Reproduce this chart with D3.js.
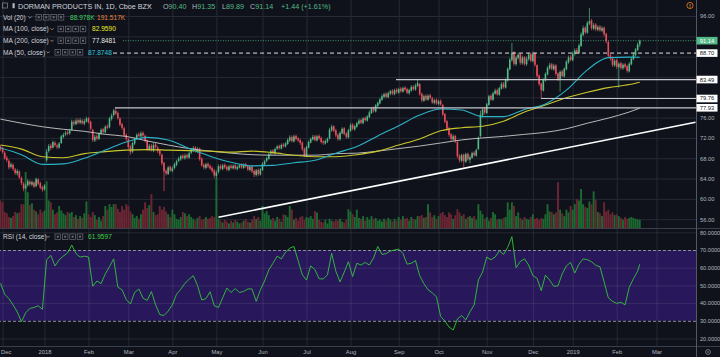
<!DOCTYPE html>
<html><head><meta charset="utf-8">
<script src="https://cdn.jsdelivr.net/npm/d3@7/dist/d3.min.js"></script>
<style>html,body{margin:0;padding:0;background:#0f121a;overflow:hidden}svg{display:block}</style>
</head><body><svg id="c" width="720" height="357"></svg>
<script>
// ---------- DATA (daily bars, index 0 = ~30 Nov 2017) ----------
const opens=[70.2,69.9,69.1,68.1,67.5,66.3,66.7,65.8,65.0,65.4,
64.1,63.0,62.2,62.7,63.4,62.8,63.2,62.5,63.8,63.1,
62.3,61.9,67.6,69.4,70.5,70.1,71.0,70.5,70.1,71.0,
72.2,72.7,73.1,72.9,73.6,75.1,74.7,75.5,75.0,75.4,
74.8,75.2,75.9,75.2,73.6,71.5,72.3,71.8,72.9,73.7,
73.1,74.3,74.1,75.7,76.5,77.3,76.9,75.8,74.7,73.9,
72.6,71.7,70.3,69.3,70.9,71.9,72.7,72.3,73.0,72.4,
71.5,69.7,70.5,69.5,70.7,70.1,69.5,68.7,67.1,65.5,
64.9,66.3,65.5,66.1,66.7,67.5,67.8,68.5,68.0,68.6,
68.1,69.1,69.5,70.1,69.3,69.9,67.9,66.7,66.1,66.9,
66.5,66.1,65.6,64.5,65.3,66.5,65.9,66.7,66.3,65.7,
66.5,66.0,66.6,65.9,66.2,66.7,66.1,66.8,66.5,65.7,
66.4,65.5,64.7,65.7,64.8,65.7,66.8,67.5,67.9,68.9,
69.5,68.9,69.9,70.4,69.9,70.7,70.3,70.8,71.5,72.2,
71.3,72.4,71.9,71.6,71.1,69.9,68.5,70.1,71.1,71.7,
72.3,71.5,72.4,72.0,71.3,70.9,71.3,71.9,73.5,74.3,
73.5,72.6,71.7,72.9,73.9,72.9,72.1,73.4,74.6,73.7,
74.2,74.8,75.5,74.9,75.9,75.4,76.1,76.9,77.9,77.2,
78.3,78.8,79.5,80.1,80.7,80.0,80.7,81.3,80.6,81.5,
80.9,81.7,81.1,81.9,81.6,80.8,81.3,82.1,81.5,82.2,
82.6,80.7,79.3,80.3,79.5,80.4,79.8,78.9,79.5,78.7,
79.3,78.5,76.7,75.3,73.9,72.7,71.7,72.4,71.2,68.5,
67.5,68.7,67.3,68.9,67.7,68.1,69.1,68.5,69.8,72.4,
76.4,77.8,76.9,78.5,80.3,79.5,80.7,81.4,80.5,81.7,
82.7,81.9,83.3,85.5,87.3,88.9,86.5,87.7,88.5,86.7,
87.9,86.5,87.5,88.5,87.1,88.7,86.3,84.3,82.7,81.3,
83.3,84.5,85.7,86.5,85.5,86.3,84.7,83.5,85.1,84.1,
85.5,86.9,87.9,87.3,88.5,89.3,88.7,90.1,92.3,93.7,
92.7,94.5,95.1,93.5,94.3,93.3,93.9,93.1,93.7,92.5,
90.9,88.3,87.7,86.3,87.3,85.9,86.7,85.7,86.5,86.1,
85.1,86.5,87.5,88.3,89.3,90.40];
const highs=[70.6,70.3,69.4,68.5,67.8,67.2,67.0,66.1,65.9,65.6,
64.4,63.3,63.0,63.9,63.7,63.6,63.5,64.2,64.1,63.4,
62.6,62.9,69.8,70.8,70.9,71.5,71.4,70.9,71.2,72.6,
73.0,73.4,73.5,73.8,75.6,75.5,75.8,75.9,75.9,75.7,
75.7,76.2,76.1,75.4,73.8,72.6,72.7,73.1,73.9,74.0,
74.5,74.7,76.1,76.8,77.7,77.93,77.2,76.1,75.0,74.2,
72.9,72.0,70.6,71.3,72.1,72.9,73.1,73.3,73.3,72.7,
71.7,70.8,70.8,71.0,71.0,70.4,69.8,68.9,67.3,65.9,
66.5,66.6,66.4,67.1,67.7,68.3,68.7,68.8,68.9,68.9,
69.3,70.0,70.4,70.4,70.2,70.1,68.2,67.0,67.1,67.2,
66.8,66.4,65.9,65.6,66.8,66.8,66.9,67.0,66.6,66.7,
66.8,66.8,66.9,66.6,66.9,67.0,67.0,67.1,66.7,66.6,
66.6,65.8,65.9,66.0,66.1,67.2,67.7,68.3,69.1,69.7,
69.8,70.1,70.6,70.7,70.9,71.0,71.2,71.9,72.5,72.5,
72.6,72.7,72.2,71.9,71.3,70.1,70.5,71.5,72.1,72.6,
72.6,72.6,72.7,72.3,71.6,71.7,72.1,74.0,74.6,74.5,
73.8,72.9,73.3,74.1,74.1,73.1,73.8,74.9,74.9,74.6,
75.2,75.8,75.8,76.1,76.2,76.5,77.4,78.1,78.2,78.7,
79.2,79.9,80.6,80.9,81.0,81.1,81.5,81.6,81.7,81.8,
81.9,82.0,82.1,82.2,81.9,81.7,82.4,82.4,82.7,83.49,
82.8,80.9,80.5,80.6,80.6,80.7,80.1,79.7,79.8,79.5,
79.6,78.7,76.9,75.5,74.2,73.0,72.7,72.6,71.4,68.8,
68.9,68.9,69.1,69.1,68.6,69.3,69.4,69.9,72.3,77.4,
78.0,78.1,78.9,80.5,80.6,81.1,81.7,81.7,82.1,83.0,
83.0,83.7,85.9,87.8,90.7,89.1,88.2,88.8,88.7,88.2,
88.1,88.0,88.8,88.8,89.0,88.9,86.5,84.5,82.9,83.7,
84.9,86.1,86.8,86.8,86.6,86.5,84.9,85.3,85.4,85.9,
87.3,88.2,88.3,89.0,89.6,89.7,90.6,92.8,94.1,94.0,
95.0,97.6,95.4,94.6,94.6,94.2,94.2,94.0,93.9,92.7,
91.1,88.6,88.0,87.5,87.6,86.9,87.0,86.7,86.8,86.4,
86.9,87.9,88.8,89.7,90.8,91.35];
const lows=[69.4,68.9,67.7,67.2,65.8,66.0,65.5,64.7,64.6,63.9,
62.7,61.5,61.9,62.4,62.5,62.5,62.1,62.3,62.7,61.9,
61.4,61.6,67.2,69.1,69.6,69.9,70.2,69.8,69.9,70.8,
71.9,72.4,72.5,72.6,73.4,74.4,74.5,74.7,74.7,74.6,
74.5,75.0,74.8,73.5,71.2,71.2,71.5,71.6,72.6,72.9,
72.9,73.7,73.9,75.4,76.2,76.5,75.6,74.3,73.6,72.2,
71.4,69.8,68.7,69.0,70.6,71.6,72.1,72.0,72.2,71.1,
69.4,69.4,69.3,69.2,69.9,69.0,68.4,66.6,61.5,64.6,
64.7,65.3,65.2,65.8,66.4,67.2,67.5,67.8,67.7,67.9,
67.9,68.8,69.2,69.1,69.0,67.5,66.3,65.8,65.8,66.1,
65.7,65.1,64.1,64.0,65.0,65.7,65.6,65.9,65.5,65.4,
65.8,65.8,65.7,65.6,66.0,65.9,65.9,66.1,65.5,65.4,
65.1,64.3,64.4,64.5,64.6,65.5,66.5,67.2,67.7,68.6,
68.7,68.7,69.6,69.7,69.7,70.1,70.1,70.6,71.2,71.1,
71.1,71.5,71.2,70.6,69.4,68.2,68.3,69.9,70.9,71.5,
71.3,71.3,71.6,70.9,70.6,70.7,71.0,71.7,73.2,73.1,
72.1,71.4,71.5,72.7,72.5,71.8,71.9,73.2,73.5,73.4,
74.0,74.6,74.7,74.7,75.2,75.2,75.9,76.7,77.0,77.0,
78.0,78.6,79.3,79.8,79.8,79.8,80.4,80.4,80.4,80.7,
80.7,80.9,80.9,81.2,80.6,80.5,81.1,81.3,81.3,82.0,
80.3,79.0,79.1,79.3,79.3,79.6,78.7,78.6,78.5,78.4,
78.3,76.3,74.9,73.4,72.2,71.4,71.4,71.0,68.0,67.2,
67.2,66.3,67.1,67.5,67.0,67.9,68.3,68.3,69.6,72.1,
76.0,76.6,76.7,78.3,79.3,79.3,80.5,80.3,80.3,81.5,
81.7,81.7,83.1,85.3,87.0,86.2,86.2,87.4,86.4,86.4,
86.2,86.2,87.2,86.9,86.9,86.0,83.8,82.2,79.76,81.1,
83.1,84.3,85.4,85.3,85.2,84.2,83.2,81.1,83.9,83.9,
85.3,86.6,87.1,87.1,88.2,88.5,88.5,89.9,92.0,92.4,
92.5,94.2,93.2,93.2,93.0,93.0,92.9,92.8,92.0,90.6,
87.8,87.2,86.0,86.0,85.6,81.9,85.4,85.4,85.6,84.8,
84.9,86.3,87.3,88.1,89.1,89.89];
const closes=[69.8,69.2,68.0,67.6,66.2,66.8,65.9,65.1,65.5,64.2,
63.1,62.0,62.6,63.5,62.9,63.3,62.4,63.9,63.0,62.2,
61.8,62.6,69.3,70.4,70.0,71.2,70.6,70.2,70.9,72.3,
72.6,73.0,72.8,73.4,75.2,74.8,75.4,75.0,75.5,74.9,
75.3,75.8,75.1,73.8,71.6,72.2,71.9,72.8,73.6,73.2,
74.2,74.0,75.8,76.4,77.4,76.8,75.9,74.6,74.0,72.5,
71.8,70.2,69.2,71.0,71.8,72.6,72.4,72.9,72.5,71.4,
69.8,70.4,69.6,70.6,70.2,69.4,68.8,67.0,65.4,65.0,
66.2,65.6,66.0,66.8,67.4,67.9,68.4,68.1,68.5,68.2,
69.0,69.6,70.0,69.4,69.8,67.8,66.6,66.2,66.8,66.4,
66.0,65.5,64.6,65.2,66.4,66.0,66.6,66.2,65.8,66.4,
66.1,66.5,66.0,66.3,66.6,66.2,66.7,66.4,65.8,66.3,
65.4,64.8,65.6,64.9,65.8,66.9,67.4,68.0,68.8,69.4,
69.0,69.8,70.3,70.0,70.6,70.4,70.9,71.6,72.1,71.4,
72.3,71.8,71.5,71.0,69.8,68.6,70.2,71.2,71.8,72.2,
71.6,72.3,71.9,71.2,71.0,71.4,71.8,73.6,74.2,73.4,
72.5,71.8,73.0,73.8,72.8,72.2,73.5,74.5,73.8,74.3,
74.9,75.4,75.0,75.8,75.5,76.2,77.0,77.8,77.3,78.4,
78.9,79.6,80.2,80.6,80.1,80.8,81.2,80.7,81.4,81.0,
81.6,81.2,81.8,81.5,80.9,81.4,82.0,81.6,82.3,82.8,
80.6,79.4,80.2,79.6,80.3,79.9,79.0,79.4,78.8,79.2,
78.6,76.6,75.2,73.8,72.6,71.8,72.3,71.4,68.4,67.6,
68.6,67.4,68.8,67.8,68.2,69.0,68.6,69.6,72.0,76.6,
77.6,77.0,78.6,80.2,79.6,80.8,81.3,80.6,81.8,82.6,
82.0,83.4,85.6,87.4,88.8,86.6,87.8,88.4,86.8,87.8,
86.6,87.6,88.4,87.2,88.6,86.4,84.2,82.6,81.4,83.4,
84.6,85.8,86.4,85.6,86.2,84.6,83.6,85.0,84.2,85.6,
87.0,87.8,87.4,88.6,89.2,88.8,90.2,92.4,93.6,92.8,
94.6,95.0,93.6,94.2,93.4,93.8,93.2,93.6,92.4,91.0,
88.2,87.6,86.4,87.2,86.0,86.6,85.8,86.4,86.0,85.2,
86.6,87.6,88.4,89.4,90.4,91.14];
const volumes=[300,280,175,160,120,110,130,175,160,170,
260,260,610,390,250,270,200,180,150,200,
170,190,510,300,280,200,150,170,240,190,
160,140,175,160,175,120,140,100,130,110,
160,290,150,120,175,140,90,120,80,130,
240,200,260,230,260,260,210,175,240,200,
260,240,180,150,110,130,100,150,200,280,
220,250,370,175,140,150,240,200,230,180,
150,120,200,150,100,90,120,175,160,130,
150,120,100,80,110,130,90,100,120,100,
110,130,120,545,100,80,60,90,70,50,
80,60,90,70,50,60,80,100,70,60,
90,130,100,120,80,240,160,185,140,90,
110,80,120,100,70,150,140,120,240,200,
90,110,80,120,130,90,120,110,130,100,
185,170,90,70,60,90,50,100,80,70,
90,80,100,70,60,90,205,180,150,120,
200,110,100,130,80,120,90,130,100,110,
80,90,70,100,80,110,90,70,100,80,
120,90,130,100,110,80,120,100,90,130,
130,140,110,120,260,170,120,140,100,130,
160,175,140,120,170,150,100,140,205,170,
130,150,100,120,130,110,130,90,260,190,
150,100,120,80,110,175,150,90,100,90,
110,120,280,200,280,240,130,170,110,90,
120,100,90,120,150,100,110,90,110,100,
150,260,180,175,150,170,500,200,160,130,
200,170,240,200,260,315,300,425,260,230,
220,290,260,400,310,175,160,130,280,180,
200,150,170,140,150,130,110,90,120,100,
110,120,110,100,95,89];
// moving averages, sampled every 10 bars
const maBars=[0,10,20,30,40,50,60,70,80,90,100,110,120,130,140,150,160,170,180,190,200,210,220,230,240,250,260,270,280,290,300,305];
const ma50=[70.0,68.7,66.8,66.9,68.0,69.6,71.2,72.1,71.6,69.9,68.4,67.2,66.5,66.6,67.1,67.6,69.0,70.3,72.4,74.4,76.5,77.7,77.5,76.2,76.2,77.6,78.7,81.4,85.4,87.8,87.9,87.87];
const ma100=[70.6,69.8,68.3,68.1,68.9,69.3,69.6,69.7,69.6,69.5,69.4,69.2,69.4,69.1,68.6,68.3,68.3,68.7,69.4,70.6,71.8,73.4,74.0,74.3,75.3,77.1,78.5,79.9,81.0,81.9,82.5,82.96];
const ma200=[75.7,74.9,74.2,73.7,73.3,72.7,72.3,71.4,70.6,69.9,69.4,69.0,68.7,68.6,68.6,68.6,68.9,69.0,69.4,69.9,70.4,71.0,71.6,72.0,72.3,72.7,73.1,73.8,74.9,75.9,77.1,77.85];
// RSI(14), sampled every 2 bars, last bar appended
const rsiVals=[51.2,45.0,42.5,39.0,35.0,29.5,34.5,37.0,37.5,38.5,
36.5,64.4,67.0,61.0,64.5,66.6,68.3,72.8,68.0,66.0,
66.5,66.0,49.5,52.5,51.0,56.5,60.6,65.0,49.0,47.5,
42.0,39.5,46.0,48.0,42.8,41.5,46.5,39.0,33.5,33.0,
35.5,39.0,45.0,47.8,51.2,53.5,55.5,50.0,41.8,42.5,
46.4,38.5,37.5,43.0,48.5,46.0,48.2,46.0,46.6,48.0,
48.0,41.0,47.5,52.5,58.7,62.5,66.5,65.0,68.8,71.0,
72.0,64.0,56.0,53.0,61.0,59.0,53.8,53.6,56.0,68.1,
58.0,52.0,57.5,63.4,55.0,62.5,61.5,63.0,61.5,65.5,
72.0,67.5,68.0,69.4,70.0,70.5,68.1,62.0,62.5,64.0,
55.5,51.0,47.5,45.8,43.6,32.5,29.8,26.5,24.8,31.0,
33.0,30.5,35.1,39.0,53.0,57.5,66.0,64.5,66.0,69.5,
67.5,71.5,77.5,60.0,63.5,65.0,61.5,55.5,54.0,47.0,
55.8,53.0,49.5,49.8,56.5,61.0,63.0,57.0,62.0,65.0,
64.5,63.4,61.3,60.6,52.0,43.0,41.0,39.8,40.5,39.0,
49.0,53.8,58.0,61.96];
const rsiBars=d3.range(0,305,2).concat([305]);
const monthBars=[1,21,42,61,82,103,125,146,167,190,209,232,254,273,294,313];
const monthLabels=["Dec","2018","Feb","Mar","Apr","May","Jun","Jul","Aug","Sep","Oct","Nov","Dec","2019","Feb","Mar"];
const priceTicks=[96,92,88,84,80,76,72,68,64,60,56];
const rsiTicks=[80,70,60,50,40,30,20];
const levelPrices=[77.93,79.76,83.49];
const levelStarts=[54.6,257.9,188.7];
const markPrice=88.70, markStart=53.7;
const lastPrice=91.14, lastStart=58.4;
const trendBars=[104,331.6], trendPrices=[56.4,75.1];

// ---------- DRAW ----------
const BG='#0f121a', GRID='#262a35', UP='#53b987', DN='#eb4d5c', TXT='#b2b5be';
const FONT='"Liberation Sans",Arial,sans-serif';
const PR=696, MAIN_B=228, RSI_T=229, RSI_B=346;
const svg=d3.select('#c').style('font-family',FONT);
svg.append('rect').attr('width',720).attr('height',357).attr('fill',BG);

const x=d3.scaleLinear().domain([0,331.6]).range([0.5,695.5]);
const y=d3.scaleLinear().domain([96,56]).range([16,219.2]);
const yv=d3.scaleLinear().domain([0,1200]).range([MAIN_B,MAIN_B-110]);
const yr=d3.scaleLinear().domain([70,30]).range([250,320.8]);

const defs=svg.append('defs');
defs.append('clipPath').attr('id','cm').append('rect').attr('x',0).attr('y',0).attr('width',PR).attr('height',MAIN_B);
defs.append('clipPath').attr('id','cr').append('rect').attr('x',0).attr('y',RSI_T).attr('width',PR).attr('height',RSI_B-RSI_T);

// RSI band
svg.append('rect').attr('x',0).attr('y',yr(70)).attr('width',PR).attr('height',yr(30)-yr(70)).attr('fill','#28175a');

// vertical grid
function vgrid(y0,h,col){
  const g=svg.append('g').attr('transform',`translate(0,${y0})`)
    .call(d3.axisBottom(x).tickValues(monthBars).tickSize(h).tickFormat(''));
  g.select('.domain').remove();
  g.selectAll('line').attr('stroke',col).attr('stroke-width',1);
}
vgrid(0,MAIN_B,GRID);
vgrid(RSI_T,RSI_B-RSI_T,'rgba(255,255,255,0.09)');

// price axis + horizontal grid (labels hidden under the value tags, as in the source)
const tagged=[92,88,84,80];
const ga=svg.append('g').attr('transform',`translate(${PR},0)`)
  .call(d3.axisRight(y).tickValues(priceTicks).tickFormat(d=>tagged.includes(d)?'':d3.format('.2f')(d)).tickSizeInner(-PR).tickSizeOuter(0).tickPadding(4));
ga.select('.domain').remove();
ga.selectAll('line').attr('stroke',GRID);
ga.selectAll('text').attr('fill',TXT).style('font-size','5.8px').style('font-family',FONT);

// RSI axis
const gr=svg.append('g').attr('transform',`translate(${PR},0)`)
  .call(d3.axisRight(yr).tickValues(rsiTicks).tickFormat(d3.format('.4f')).tickSizeInner(-PR).tickSizeOuter(0).tickPadding(4));
gr.select('.domain').remove();
gr.selectAll('.tick line').attr('stroke',d=>(d===70||d===30)?'#8a8d96':'rgba(255,255,255,0.09)')
  .attr('stroke-dasharray',d=>(d===70||d===30)?'3,2':null);
gr.selectAll('text').attr('fill',TXT).style('font-size','5.6px').style('font-family',FONT);

// x axis labels
const gb=svg.append('g').attr('transform',`translate(0,${RSI_B})`)
  .call(d3.axisBottom(x).tickValues(monthBars).tickFormat((d,i)=>monthLabels[i]).tickSize(0).tickPadding(4));
gb.select('.domain').remove();
gb.selectAll('text').attr('fill',TXT).style('font-size','5.8px').style('font-family',FONT);
gb.selectAll('text').filter((d,i)=>i===0).attr('text-anchor','start').attr('x',-2);

// main pane content
const main=svg.append('g').attr('clip-path','url(#cm)');
const bars=d3.range(closes.length);
main.selectAll('.vol').data(bars).join('rect')
  .attr('x',i=>x(i)-0.95).attr('width',1.9)
  .attr('y',i=>yv(volumes[i])).attr('height',i=>MAIN_B-yv(volumes[i]))
  .attr('fill',i=>closes[i]>=opens[i]?'#1d6a31':'#6c2633');

main.selectAll('.wick').data(bars).join('line')
  .attr('x1',i=>x(i)).attr('x2',i=>x(i))
  .attr('y1',i=>y(highs[i])).attr('y2',i=>y(lows[i]))
  .attr('stroke',i=>closes[i]>=opens[i]?UP:DN).attr('stroke-width',0.7);
main.selectAll('.body').data(bars).join('rect')
  .attr('x',i=>x(i)-0.8).attr('width',1.6)
  .attr('y',i=>y(Math.max(opens[i],closes[i])))
  .attr('height',i=>Math.max(0.8,Math.abs(y(opens[i])-y(closes[i]))))
  .attr('fill',i=>closes[i]>=opens[i]?UP:DN);

const maLine=vals=>d3.line().x((d,k)=>x(maBars[k])).y(d=>y(d)).curve(d3.curveMonotoneX)(vals);
main.append('path').attr('d',maLine(ma200)).attr('fill','none').attr('stroke','#c9c9c9').attr('stroke-width',0.9);
main.append('path').attr('d',maLine(ma100)).attr('fill','none').attr('stroke','#c8c62c').attr('stroke-width',1.1);
main.append('path').attr('d',maLine(ma50)).attr('fill','none').attr('stroke','#2ab3c6').attr('stroke-width',1.1);

// horizontal levels
levelPrices.forEach((p,k)=>{
  main.append('line').attr('x1',x(levelStarts[k])).attr('x2',PR).attr('y1',y(p)).attr('y2',y(p))
    .attr('stroke','#c4c6cc').attr('stroke-width',1.2);
});
main.append('line').attr('x1',x(markStart)).attr('x2',PR).attr('y1',y(markPrice)).attr('y2',y(markPrice))
  .attr('stroke','#e0e0e0').attr('stroke-width',1).attr('stroke-dasharray','4,3');
main.append('line').attr('x1',x(lastStart)).attr('x2',PR).attr('y1',y(lastPrice)).attr('y2',y(lastPrice))
  .attr('stroke',UP).attr('stroke-width',0.8).attr('stroke-dasharray','1,1.5');
// trendline
main.append('line').attr('x1',x(trendBars[0])).attr('y1',y(trendPrices[0])).attr('x2',x(trendBars[1])).attr('y2',y(trendPrices[1]))
  .attr('stroke','#ffffff').attr('stroke-width',1.6);

// RSI line
const rsiG=svg.append('g').attr('clip-path','url(#cr)');
rsiG.append('path').attr('d',d3.line().x((d,k)=>x(rsiBars[k])).y(d=>yr(d))(rsiVals))
  .attr('fill','none').attr('stroke','#33c43c').attr('stroke-width',0.9);

// separators
svg.append('line').attr('x1',0).attr('x2',720).attr('y1',228.5).attr('y2',228.5).attr('stroke','#3a3e4a');
svg.append('line').attr('x1',0).attr('x2',720).attr('y1',RSI_B+0.5).attr('y2',RSI_B+0.5).attr('stroke','#3a3e4a');
svg.append('line').attr('x1',PR+0.5).attr('x2',PR+0.5).attr('y1',0).attr('y2',357).attr('stroke','#555862');

// price labels on axis
function tag(p,bg,fg){
  svg.append('rect').attr('x',PR+0.5).attr('y',y(p)-3.8).attr('width',21).attr('height',7.6).attr('fill',bg);
  svg.append('text').attr('x',PR+11).attr('y',y(p)+2).attr('text-anchor','middle').attr('fill',fg)
    .style('font-size','5.8px').style('font-family',FONT).text(d3.format('.2f')(p));
}
tag(lastPrice,UP,'#ffffff');
tag(markPrice,'#ffffff','#131722');
levelPrices.slice().reverse().forEach(p=>tag(p,'#ffffff','#131722'));

// alert icon
svg.append('circle').attr('cx',690).attr('cy',5.5).attr('r',3.1).attr('fill','none').attr('stroke','#f57f17').attr('stroke-width',0.8);
svg.append('text').attr('x',690).attr('y',7.6).attr('text-anchor','middle').attr('fill','#f57f17').style('font-size','5.5px').style('font-weight','bold').text('!');
// gear icon
svg.append('circle').attr('cx',708).attr('cy',352).attr('r',2.4).attr('fill','none').attr('stroke','#8a8d96').attr('stroke-width',0.8);
svg.append('circle').attr('cx',708).attr('cy',352).attr('r',0.8).attr('fill','#8a8d96');

// legend
function t(xp,yp,s,c,sz){return svg.append('text').attr('x',xp).attr('y',yp).attr('fill',c).style('font-size',(sz||7.2)+'px').style('font-family',FONT).text(s);}
function chev(xp,yc){svg.append('path').attr('d',`M${xp-1.6},${yc-0.8}L${xp},${yc+0.8}L${xp+1.6},${yc-0.8}`).attr('stroke',TXT).attr('fill','none').attr('stroke-width',0.7);}
function icons(x0,yc){
  for(let k=0;k<4;k++){
    const bx=x0+k*7.4;
    svg.append('rect').attr('x',bx).attr('y',yc-2.8).attr('width',5.6).attr('height',5.6).attr('fill','none').attr('stroke','#6a6d78').attr('stroke-width',0.7);
    svg.append('rect').attr('x',bx+1.8).attr('y',yc-1).attr('width',2).attr('height',2).attr('fill','#6a6d78');
  }
}
// row 1
svg.append('rect').attr('x',2.5).attr('y',3).attr('width',5).attr('height',5).attr('fill','none').attr('stroke','#8a8d96').attr('stroke-width',0.7);
svg.append('rect').attr('x',12.5).attr('y',3.2).attr('width',2.2).attr('height',5).attr('fill','#b2b5be');
t(18,8.6,'DORMAN PRODUCTS IN, 1D, Cboe BZX','#d1d4dc');
chev(149,6);
const ohlc=[['O','90.40',163],['H','91.35',192],['L','89.89',222],['C','91.14',250]];
ohlc.forEach(([k,v,xp])=>{const tx=t(xp,8.6,'',TXT);tx.append('tspan').text(k);tx.append('tspan').attr('fill',UP).text(v);});
t(281,8.6,'+1.44 (+1.61%)',UP);
// row 2
t(3,19.7,'Vol (20)','#d1d4dc',6.6); chev(30,17.3); icons(36,17.3);
t(70,19.7,'88.978K','#3fcf5e',6.6); t(97,19.7,'191.517K','#e8843c',6.6);
// row 3
t(3,31.4,'MA (100, close)','#d1d4dc',6.6); chev(52,29); icons(58,29); t(92,31.4,'82.9590','#ecec2c',6.6);
// row 4
t(3,43.1,'MA (200, close)','#d1d4dc',6.6); chev(52,40.7); icons(58,40.7); t(92,43.1,'77.8481','#e6e6e6',6.6);
// row 5
t(3,54.7,'MA (50, close)','#d1d4dc',6.6); chev(48,52.3); icons(55,52.3); t(88,54.7,'87.8748','#2ec9df',6.6);
// RSI legend
t(3,239,'RSI (14, close)','#d1d4dc',6.6); chev(48,236.7); icons(55,236.7); t(88,239,'61.9597','#3fd04a',6.6);
</script></body></html>
